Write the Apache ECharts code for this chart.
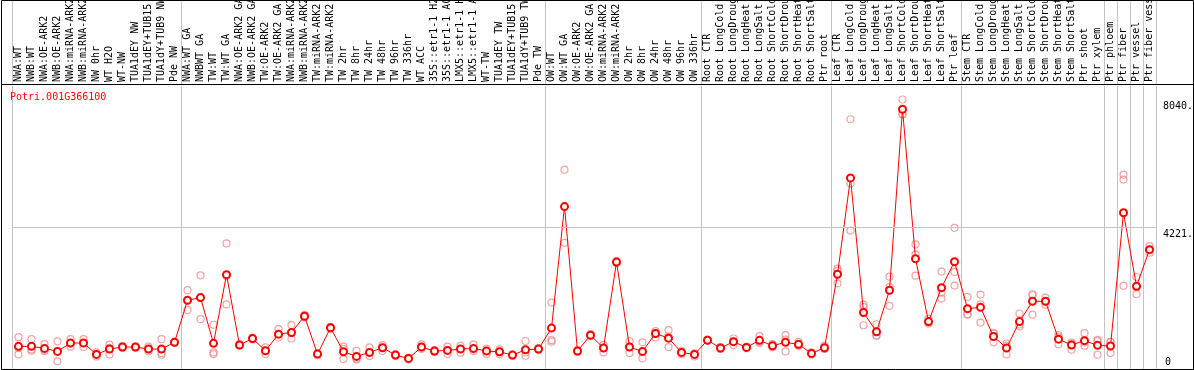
<!DOCTYPE html>
<html>
<head>
<meta charset="utf-8">
<script src="https://cdn.jsdelivr.net/npm/echarts@6/dist/echarts.min.js"></script>
<style>
html,body{margin:0;padding:0;background:#fff;}
#chart{width:1194px;height:370px;}
</style>
</head>
<body>
<div id="chart"></div>
<script>
// ---------------- data ----------------
const geneId = 'Potri.001G366100';

const categories = [
  'NWA:WT','NWB:WT','NWA:OE-ARK2','NWB:OE-ARK2','NWA:miRNA-ARK2','NWB:miRNA-ARK2','NW 0hr','WT H2O','WT-NW','TUA1dEY NW','TUA1dEY+TUB15 NW','TUA1dY+TUB9 NW','Pde NW',
  'NWA:WT GA','NWBWT GA','TW:WT','TW:WT GA','NWA:OE-ARK2 GA','NWB:OE-ARK2 GA','TW:OE-ARK2','TW:OE-ARK2 GA','NWA:miRNA-ARK2 GA','NWB:miRNA-ARK2 GA','TW:miRNA-ARK2','TW:miRNA-ARK2 GA',
  'TW 2hr','TW 8hr','TW 24hr','TW 48hr','TW 96hr','TW 336hr','WT ACC','35S::etr1-1 H2O','35S::etr1-1 ACC','LMX5::etr1-1 H2O','LMX5::etr1-1 ACC','WT-TW','TUA1dEY TW','TUA1dEY+TUB15 TW','TUA1dY+TUB9 TW','Pde TW',
  'OW:WT','OW:WT GA','OW:OE-ARK2','OW:OE-ARK2 GA','OW:miRNA-ARK2','OW:miRNA-ARK2 GA','OW 2hr','OW 8hr','OW 24hr','OW 48hr','OW 96hr','OW 336hr',
  'Root CTR','Root LongCold','Root LongDrought','Root LongHeat','Root LongSalt','Root ShortCold','Root ShortDrought','Root ShortHeat','Root ShortSalt','Ptr root',
  'Leaf CTR','Leaf LongCold','Leaf LongDrought','Leaf LongHeat','Leaf LongSalt','Leaf ShortCold','Leaf ShortDrought','Leaf ShortHeat','Leaf ShortSalt','Ptr leaf',
  'Stem CTR','Stem LongCold','Stem LongDrought','Stem LongHeat','Stem LongSalt','Stem ShortCold','Stem ShortDrought','Stem ShortHeat','Stem ShortSalt','Ptr shoot','Ptr xylem',
  'Ptr phloem','Ptr fiber','Ptr vessel','Ptr fiber vessel'
];

// index of the first category of each sample group
const groupStarts = [0, 13, 41, 53, 63, 73, 84, 85, 86, 87];

const means = [
  675,675,615,525,775,775,435,595,655,655,595,595,795,
  2050,2130,765,2815,715,910,545,1040,1090,1575,445,1230,
  515,375,495,635,415,315,655,535,555,595,615,535,515,415,575,595,
  1220,4845,535,1010,625,3190,655,525,1060,920,495,435,
  860,625,815,645,855,695,795,735,465,635,
  2825,5700,1685,1110,2350,7750,3290,1415,2425,3200,
  1800,1840,970,625,1415,2020,2020,890,715,845,705,
  685,4660,2470,3560
];

const replicates = [
  [950,630,435],[890,585,545],[745,565,535],[825,525,230],[890,765,665],[890,775,655],[495,435,375],[725,625,435],[685,655,625],[675,655,635],[665,595,525],[890,475,425],[815,795,775],
  [2350,2050,1755],[2795,2130,1485],[1320,495,445],[3745,2775,1925],[740,715,690],[940,910,880],[645,545,445],[1190,1040,940],[1310,1080,910],[1615,1575,1535],[475,445,415],[1260,1230,1200],
  [665,600,295],[545,310,280],[645,470,390],[715,635,535],[445,415,385],[340,315,290],[735,655,600],[565,535,505],[665,560,445],[695,595,485],[735,580,530],[600,535,450],[585,515,445],[440,415,390],[835,495,395],[625,595,565],
  [1980,860,815],[5945,3765],[565,535,505],[1040,1010,980],[715,625,495],[3220,3190,3160],[835,655,475],[795,505,315],[1130,1060,940],[1160,970,655],[545,495,440],[470,435,375],
  [880,860,840],[650,625,600],[910,815,715],[670,645,620],[980,810,775],[740,695,650],[1010,875,525],[810,700,695],[500,465,430],[700,605,600],
  [2995,2925,2555],[7450,5530,4130],[1920,1850,1305],[1335,1000,990],[2755,2440,1885],[8040,7600,7600],[3715,3420,2785],[1505,1385,1355],[2905,2280,2100],[4210,2895,2490],
  [2150,1630,1620],[2220,1930,1385],[1070,1060,795],[760,700,435],[1655,1330,1270],[2230,2200,1625],[2130,2020,1915],[1010,950,735],[790,760,575],[1070,790,695],[870,830,425],
  [810,805,475],[5800,5650,2480],[2745,2440,2230],[3665,3555,3470]
];

const yMax = 8442;
const yTickValues = [0, 4221, 8040];
const yTickLabels = ['0', '4221.', '8040.'];
const gridLineValues = [4221];

// ---------------- chart ----------------
const repPoints = [];
replicates.forEach((reps, i) => reps.forEach(v => repPoints.push([i, v])));

const startSet = new Set(groupStarts);
const mono = 'DejaVu Sans Mono';
const sepColor = '#c4c4c4';

const chart = echarts.init(document.getElementById('chart'), null, {renderer: 'canvas'});
const labelFor = v => yTickLabels[yTickValues.indexOf(v)];

chart.setOption({
  animation: false,
  backgroundColor: '#fff',
  title: {
    text: geneId, left: 10, top: 92, padding: 0,
    textStyle: {color: '#ff0000', fontFamily: mono, fontSize: 10, fontWeight: 'normal'}
  },
  grid: [
    {left: 12, width: 1144, top: 86, bottom: 1, containLabel: false, outerBoundsMode: 'none'},
    {left: 12, width: 1144, top: 0, height: 85, containLabel: false, outerBoundsMode: 'none'}
  ],
  xAxis: [
    {
      type: 'category', gridIndex: 0, position: 'top', data: categories, boundaryGap: true,
      axisLine: {show: false, onZero: false}, axisTick: {show: false},
      axisLabel: {interval: 0, rotate: -90, margin: 4, color: '#000', fontFamily: mono, fontSize: 10},
      splitLine: {show: true, interval: (i) => startSet.has(i), lineStyle: {color: sepColor, width: 1}}
    },
    {
      type: 'category', gridIndex: 1, data: categories, boundaryGap: true,
      axisLine: {show: false, onZero: false}, axisTick: {show: false}, axisLabel: {show: false},
      splitLine: {show: true, interval: (i) => startSet.has(i), lineStyle: {color: sepColor, width: 1}}
    }
  ],
  yAxis: [
    {
      type: 'value', gridIndex: 0, position: 'right', min: 0, max: yMax,
      axisLine: {show: false}, axisTick: {show: false}, splitLine: {show: false},
      axisLabel: {customValues: yTickValues.slice(1), formatter: labelFor, verticalAlign: 'top', align: 'left',
                  margin: 7, padding: [2, 0, 0, 0], color: '#000', fontFamily: mono, fontSize: 10}
    },
    {
      type: 'value', gridIndex: 0, position: 'right', min: 0, max: yMax,
      axisLine: {show: false}, axisTick: {show: false}, splitLine: {show: false},
      axisLabel: {customValues: yTickValues.slice(0, 1), formatter: labelFor, verticalAlign: 'bottom', align: 'left',
                  margin: 9, padding: [0, 0, 2, 0], color: '#000', fontFamily: mono, fontSize: 10}
    },
    {
      type: 'value', gridIndex: 1, min: 0, max: 1, show: false
    }
  ],
  series: [
    {
      name: 'replicates', type: 'scatter', xAxisIndex: 0, yAxisIndex: 0, data: repPoints,
      symbol: 'circle', symbolSize: 7, z: 2, silent: true,
      itemStyle: {color: 'rgba(0,0,0,0)', borderColor: '#ee8c8c', borderWidth: 1.2},
      markLine: {
        silent: true, symbol: ['none', 'none'], label: {show: false},
        lineStyle: {color: sepColor, type: 'solid', width: 1},
        data: gridLineValues.map(v => ({yAxis: v}))
      }
    },
    {
      name: 'mean', type: 'line', xAxisIndex: 0, yAxisIndex: 0, data: means,
      symbol: 'emptyCircle', symbolSize: 7, z: 3, silent: true,
      lineStyle: {color: '#ff0000', width: 1},
      itemStyle: {color: '#ff0000', borderColor: '#ff0000', borderWidth: 1.6}
    }
  ],
  graphic: [
    {type: 'rect', z: 100, silent: true, shape: {x: 1.5, y: 0.5, width: 1192, height: 369},
     style: {fill: 'none', stroke: '#000', lineWidth: 1}},
    {type: 'line', z: 100, silent: true, shape: {x1: 1, y1: 84.5, x2: 1194, y2: 84.5},
     style: {stroke: '#000', lineWidth: 1}}
  ]
});
</script>
</body>
</html>
